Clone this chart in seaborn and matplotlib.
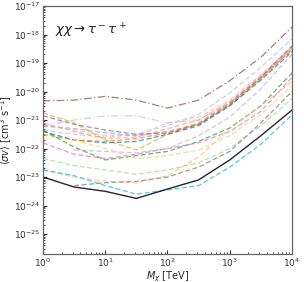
import numpy as np
import pandas as pd
import matplotlib
matplotlib.use("Agg")
import matplotlib.pyplot as plt
import seaborn as sns

# dark matter mass grid [TeV]
mass_tev = [1, 3.16, 10, 31.6, 100, 316, 1000, 3160, 10000]

# log10 <sigma v> [cm^3 s^-1] for each limit
lim_brown = [-20.33, -20.30, -20.17, -20.30, -20.58, -20.30, -19.62, -18.80, -17.74]
lim_lightgray = [-21.20, -21.00, -20.85, -20.85, -21.10, -21.00, -20.40, -19.50, -18.40]
lim_lightblue = [-21.35, -21.50, -21.60, -21.50, -21.20, -20.80, -20.05, -19.15, -18.15]
lim_lightpink = [-21.20, -21.35, -21.55, -21.55, -21.10, -20.90, -20.30, -19.40, -18.45]
lim_lightbrown = [-21.20, -21.30, -21.45, -21.55, -21.40, -21.15, -20.45, -19.55, -18.50]
lim_salmon = [-21.10, -21.40, -21.65, -21.60, -21.30, -21.00, -20.35, -19.45, -18.45]
lim_olive = [-20.75, -21.10, -21.70, -22.05, -21.50, -21.15, -20.50, -19.55, -18.50]
lim_purple = [-20.85, -21.15, -21.35, -21.50, -21.45, -21.15, -20.45, -19.50, -18.40]
lim_blue = [-21.40, -21.70, -21.80, -21.75, -21.50, -21.20, -20.50, -19.60, -18.60]
lim_orange = [-21.50, -21.70, -21.75, -21.65, -21.45, -21.10, -20.40, -19.50, -18.55]
lim_lavender = [np.nan, -22.05, -22.10, -22.15, -22.00, -21.55, -20.90, -19.90, -18.70]
lim_green = [-21.35, -21.95, -22.40, -22.25, -22.10, -21.75, -21.28, -20.50, -19.35]
lim_pink = [-21.80, -22.20, -22.35, -22.20, -22.00, -21.80, -21.40, -20.70, -19.50]
lim_lightolive = [np.nan, -21.70, -22.00, -22.35, -22.25, -22.05, -21.55, -20.80, -19.80]
lim_lightgreen = [-22.35, -22.60, -22.75, -22.90, -22.75, -22.50, -22.00, -21.20, -20.25]
lim_lightorange = [-22.75, -23.00, -23.15, -23.20, -22.95, -22.30, -21.30, -20.50, -19.65]
lim_gray = [np.nan, -23.30, -23.20, -23.15, -23.00, -22.65, -22.10, -21.10, -20.00]
lim_cyan = [-22.75, -22.95, -23.30, -23.60, -23.45, -23.30, -22.65, -21.85, -20.82]
lim_combined = [-23.00, -23.35, -23.50, -23.75, -23.42, -23.10, -22.40, -21.55, -20.65]

curves = [
    (lim_brown, "#8c564b", (0, (6, 2, 1, 2))),
    (lim_lightgray, "#c7c7c7", (0, (6, 2, 1, 2))),
    (lim_lightblue, "#aec7e8", (0, (4, 2))),
    (lim_lightpink, "#f7b6d2", (0, (4, 2))),
    (lim_lightbrown, "#c49c94", (0, (4, 2))),
    (lim_salmon, "#ff9896", (0, (4, 2))),
    (lim_olive, "#bcbd22", (0, (4, 2))),
    (lim_purple, "#9467bd", (0, (4, 2))),
    (lim_blue, "#1f77b4", (0, (4, 2))),
    (lim_orange, "#ff7f0e", (0, (4, 2))),
    (lim_lavender, "#c5b0d5", (0, (4, 2))),
    (lim_green, "#2ca02c", (0, (4, 2))),
    (lim_pink, "#e377c2", (0, (4, 2))),
    (lim_lightolive, "#dbdb8d", (0, (4, 2))),
    (lim_lightgreen, "#98df8a", (0, (4, 2))),
    (lim_lightorange, "#ffbb78", (0, (4, 2))),
    (lim_gray, "#7f7f7f", (0, (4, 2))),
    (lim_cyan, "#17becf", (0, (4, 2))),
]

sns.set_style("ticks")
fig = plt.figure(figsize=(3.04, 2.82), dpi=100)
ax = fig.add_axes([0.1414, 0.0993, 0.8191, 0.8794])

for vals, col, ls in curves:
    df = pd.DataFrame({"m": mass_tev, "sv": 10.0 ** np.array(vals)}).dropna()
    sns.lineplot(data=df, x="m", y="sv", ax=ax, color=col, linestyle=ls,
                 linewidth=0.9, alpha=0.75)

df = pd.DataFrame({"m": mass_tev, "sv": 10.0 ** np.array(lim_combined)})
sns.lineplot(data=df, x="m", y="sv", ax=ax, color="black", linewidth=1.0, alpha=0.85)

ax.set_xscale("log")
ax.set_yscale("log")
ax.set_xlim(1, 1e4)
ax.set_ylim(2e-26, 1e-17)
ax.yaxis.set_major_locator(matplotlib.ticker.LogLocator(base=10, numticks=20))
ax.yaxis.set_minor_locator(matplotlib.ticker.LogLocator(base=10, subs=np.arange(2, 10), numticks=20))
ax.tick_params(which="both", direction="in", labelsize=6.5, colors="#333333", pad=2)
ax.tick_params(which="major", length=3)
ax.tick_params(which="minor", length=1.5)
for s in ax.spines.values():
    s.set_color("#666666")
    s.set_linewidth(0.9)

ax.set_xlabel(r"$M_\chi$ [TeV]", fontsize=7, labelpad=0)
ax.set_ylabel(r"$\langle\sigma v\rangle$ [cm$^3$ s$^{-1}$]", fontsize=7, labelpad=0)
ax.text(0.05, 0.9, r"$\chi\chi \rightarrow \tau^- \tau^+$", transform=ax.transAxes,
        fontsize=9.5, va="center")

fig.savefig("out.png", dpi=100)
